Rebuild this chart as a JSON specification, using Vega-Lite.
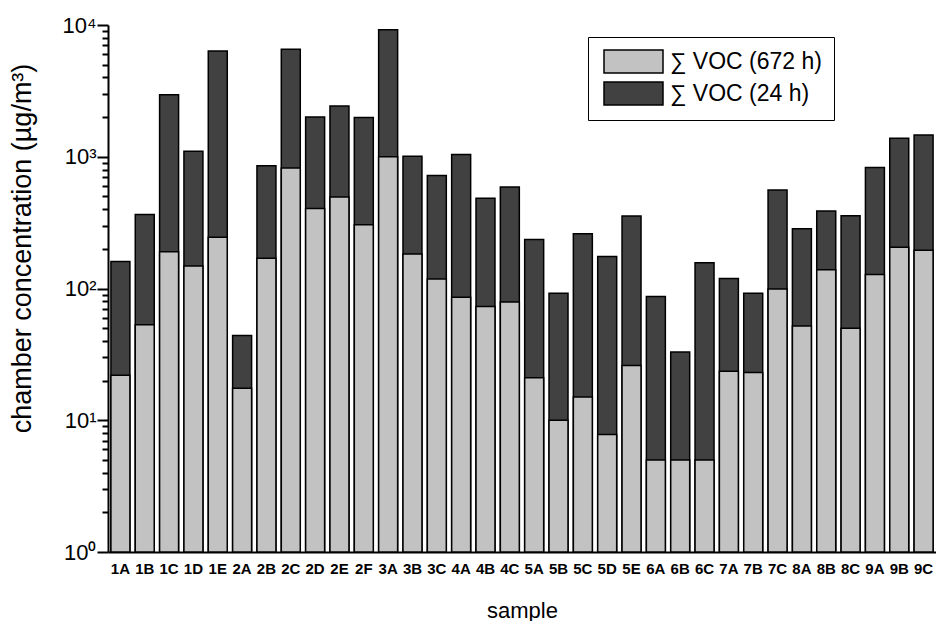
{
  "$schema": "https://vega.github.io/schema/vega-lite/v6.json",
  "width": 828,
  "height": 527,
  "autosize": {"type": "none"},
  "padding": {"left": 108, "top": 25, "right": 0, "bottom": 69},
  "background": "white",
  "config": {
    "view": {"stroke": null},
    "font": "Liberation Sans"
  },
  "data": {
    "values": [
      {"sample": "1A", "h24": 160, "h672": 22},
      {"sample": "1B", "h24": 365, "h672": 53},
      {"sample": "1C", "h24": 2950, "h672": 190},
      {"sample": "1D", "h24": 1100, "h672": 148},
      {"sample": "1E", "h24": 6350, "h672": 245},
      {"sample": "2A", "h24": 44, "h672": 17.5},
      {"sample": "2B", "h24": 855, "h672": 170},
      {"sample": "2C", "h24": 6550, "h672": 820},
      {"sample": "2D", "h24": 2000, "h672": 405},
      {"sample": "2E", "h24": 2430, "h672": 495},
      {"sample": "2F", "h24": 1990, "h672": 305},
      {"sample": "3A", "h24": 9200, "h672": 1000},
      {"sample": "3B", "h24": 1010, "h672": 183},
      {"sample": "3C", "h24": 720, "h672": 118},
      {"sample": "4A", "h24": 1040, "h672": 86},
      {"sample": "4B", "h24": 485, "h672": 73},
      {"sample": "4C", "h24": 590, "h672": 79},
      {"sample": "5A", "h24": 235, "h672": 21},
      {"sample": "5B", "h24": 92, "h672": 10},
      {"sample": "5C", "h24": 260, "h672": 15},
      {"sample": "5D", "h24": 175, "h672": 7.8},
      {"sample": "5E", "h24": 355, "h672": 26},
      {"sample": "6A", "h24": 87, "h672": 5},
      {"sample": "6B", "h24": 33, "h672": 5},
      {"sample": "6C", "h24": 157, "h672": 5},
      {"sample": "7A", "h24": 119, "h672": 23.5},
      {"sample": "7B", "h24": 92, "h672": 23},
      {"sample": "7C", "h24": 560, "h672": 99},
      {"sample": "8A", "h24": 284, "h672": 52},
      {"sample": "8B", "h24": 388, "h672": 139},
      {"sample": "8C", "h24": 356, "h672": 50},
      {"sample": "9A", "h24": 828, "h672": 128},
      {"sample": "9B", "h24": 1380, "h672": 206},
      {"sample": "9C", "h24": 1460, "h672": 195}
    ]
  },
  "encoding": {
    "x": {
      "field": "sample",
      "type": "nominal",
      "sort": null,
      "scale": {"paddingInner": 0.22, "paddingOuter": 0.12},
      "axis": {
        "title": "sample",
        "labelAngle": 0,
        "labelFont": "Liberation Sans",
        "labelFontWeight": "bold",
        "labelFontSize": 15,
        "labelColor": "black",
        "labelPadding": 9,
        "ticks": false,
        "domainColor": "black",
        "domainWidth": 2,
        "titleFont": "Liberation Sans",
        "titleFontWeight": "normal",
        "titleFontSize": 22,
        "titleColor": "black",
        "titleBaseline": "middle",
        "titleY": 58
      }
    }
  },
  "layer": [
    {
      "mark": {"type": "bar", "stroke": "black", "strokeWidth": 1.5},
      "encoding": {
        "y": {
          "field": "h24",
          "type": "quantitative",
          "scale": {"type": "log", "domain": [1, 10000], "nice": false},
          "axis": {
            "orient": "left",
            "title": "chamber concentration (µg/m³)",
            "grid": false,
            "values": [1, 10, 100, 1000, 10000],
            "labelExpr": "datum.value == 1 ? '10⁰' : datum.value == 10 ? '10¹' : datum.value == 100 ? '10²' : datum.value == 1000 ? '10³' : '10⁴'",
            "ticks": true,
            "tickSize": 11,
            "tickColor": "black",
            "tickWidth": 2,
            "domainColor": "black",
            "domainWidth": 2,
            "labelFont": "Liberation Sans",
            "labelFontSize": 22,
            "labelColor": "black",
            "labelPadding": 1,
            "titleFont": "Liberation Sans",
            "titleFontWeight": "normal",
            "titleFontSize": 27,
            "titleColor": "black",
            "titleAngle": -90,
            "titleAlign": "center",
            "titleBaseline": "middle",
            "titleX": -86,
            "titleY": 223
          }
        },
        "y2": {"datum": 1},
        "color": {
          "datum": "∑ VOC (24 h)",
          "type": "nominal",
          "scale": {"domain": ["∑ VOC (672 h)", "∑ VOC (24 h)"], "range": ["#c2c2c2", "#414141"]},
          "legend": {
            "title": null,
            "orient": "none",
            "legendX": 480,
            "legendY": 12,
            "padding": 12,
            "strokeColor": "black",
            "fillColor": "white",
            "symbolType": "M-2.565,-1H2.565V1H-2.565Z",
            "symbolSize": 529,
            "symbolOffset": 21,
            "symbolStrokeColor": "black",
            "symbolStrokeWidth": 1.5,
            "symbolOpacity": 1,
            "labelOffset": 24,
            "labelFont": "Liberation Sans",
            "labelFontSize": 23,
            "labelColor": "black",
            "rowPadding": 3
          }
        }
      }
    },
    {
      "mark": {"type": "bar", "stroke": "black", "strokeWidth": 1.5},
      "encoding": {
        "y": {
          "field": "h672",
          "type": "quantitative",
          "axis": {
            "orient": "left",
            "title": null,
            "grid": false,
            "labels": false,
            "domain": false,
            "values": [2, 3, 4, 5, 6, 7, 8, 9, 20, 30, 40, 50, 60, 70, 80, 90, 200, 300, 400, 500, 600, 700, 800, 900, 2000, 3000, 4000, 5000, 6000, 7000, 8000, 9000],
            "ticks": true,
            "tickSize": 6,
            "tickColor": "black",
            "tickWidth": 2
          }
        },
        "y2": {"datum": 1},
        "color": {"datum": "∑ VOC (672 h)", "type": "nominal"}
      }
    }
  ],
  "resolve": {"axis": {"y": "independent"}}
}
